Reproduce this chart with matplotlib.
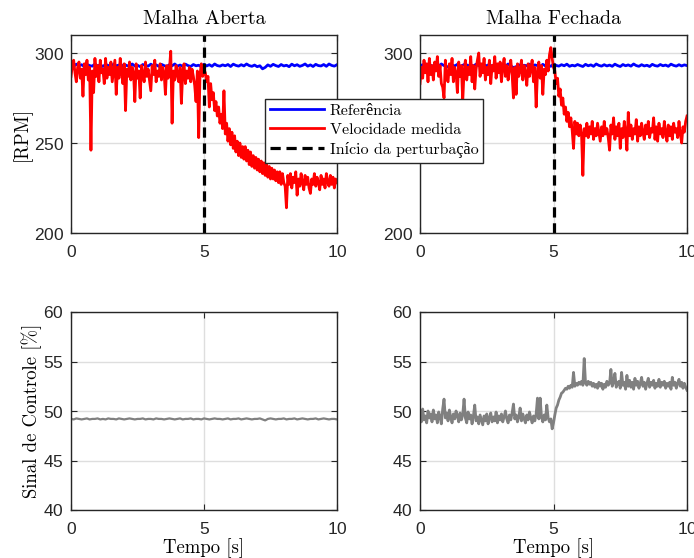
import numpy as np
import matplotlib
matplotlib.use("Agg")
import matplotlib.pyplot as plt

# velocidade de referencia (RPM), amostrada a cada 0.1 s
ref_aberta = [
    293.2, 292.6, 293.8, 292.9, 293.5, 292.4, 293.7, 293.0, 292.7, 293.9,
    292.8, 293.4, 292.5, 293.6, 293.1, 292.6, 293.8, 292.9, 293.3, 292.5,
    293.7, 293.0, 292.7, 293.9, 292.8, 293.2, 292.4, 293.6, 293.1, 292.7,
    293.8, 292.9, 293.4, 292.6, 293.7, 293.0, 292.5, 293.5, 292.9, 293.9,
    292.7, 293.3, 292.6, 293.8, 293.0, 292.5, 293.6, 292.9, 293.2, 292.4,
    293.7, 292.8, 293.5, 292.6, 293.9, 293.0, 292.7, 293.4, 292.9, 293.6,
    292.5, 293.8, 293.1, 292.7, 293.5, 292.8, 293.9, 293.0, 292.6, 293.3,
    292.4, 292.9, 291.2, 292.0, 293.4, 292.6, 293.7, 293.0, 292.5, 293.6,
    292.8, 293.2, 292.4, 293.8, 292.9, 293.5, 292.6, 293.1, 293.9, 292.7,
    293.4, 292.5, 293.7, 293.0, 292.8, 293.6, 292.6, 293.9, 293.1, 292.7,
    293.5]

ref_fechada = [
    292.9, 293.5, 292.6, 293.8, 293.1, 292.7, 293.6, 292.8, 293.9, 293.0,
    292.5, 292.1, 293.4, 292.8, 293.7, 292.6, 293.2, 293.9, 292.9, 293.5,
    292.7, 293.8, 293.0, 292.6, 293.4, 292.9, 293.7, 292.5, 293.3, 292.8,
    293.6, 293.0, 292.6, 293.9, 292.8, 291.9, 292.4, 293.5, 292.7, 293.2,
    292.9, 293.8, 292.6, 293.4, 293.0, 292.5, 293.7, 292.8, 293.3, 292.6,
    293.9, 293.1, 292.7, 293.5, 292.9, 293.8, 292.6, 293.2, 292.8, 293.6,
    293.0, 292.5, 293.7, 292.9, 293.4, 292.6, 293.9, 293.1, 292.7, 293.5,
    292.8, 293.3, 292.6, 293.8, 293.0, 292.5, 293.6, 292.9, 293.4, 292.7,
    293.9, 293.0, 292.6, 293.5, 292.8, 293.2, 292.5, 293.7, 293.0, 292.7,
    293.6, 292.9, 293.3, 292.6, 293.8, 293.1, 292.7, 293.5, 292.8, 293.4,
    293.0]

# velocidade medida (RPM), amostrada a cada 0.05 s
vel_aberta = [
    287, 293, 296, 289, 284, 292, 295, 286, 291, 276,
    294, 288, 296, 285, 292, 246, 290, 278, 297, 287,
    293, 284, 296, 289, 291, 283, 297, 286, 292, 288,
    295, 284, 290, 296, 277, 292, 286, 297, 289, 283,
    294, 268, 291, 287, 295, 285, 292, 289, 273, 294,
    286, 290, 275, 293, 288, 284, 295, 287, 291, 285,
    279, 293, 288, 296, 284, 290, 287, 294, 285, 292,
    289, 277, 293, 286, 291, 301, 261, 290, 285, 293,
    288, 284, 292, 272, 289, 294, 283, 290, 286, 292,
    284, 291, 287, 282, 273, 290, 253, 288, 294, 287,
    291, 289, 284, 287, 270, 283, 274, 278, 268, 273,
    265, 270, 261, 266, 258, 279, 255, 261, 251, 258,
    249, 256, 247, 254, 245, 251, 243, 250, 242, 248,
    241, 248, 240, 246, 238, 245, 237, 243, 236, 242,
    235, 241, 234, 240, 233, 239, 232, 238, 231, 237,
    230, 236, 230, 235, 229, 234, 228, 234, 227, 233,
    228, 226, 214, 232, 227, 233, 225, 231, 228, 234,
    221, 230, 226, 233, 228, 224, 232, 227, 231, 225,
    222, 230, 227, 233, 226, 231, 228, 224, 232, 227,
    230, 225, 233, 228, 226, 232, 227, 231, 225, 230,
    228]

vel_fechada = [
    283, 292, 286, 296, 289, 294, 284, 297, 288, 293,
    285, 295, 290, 298, 287, 293, 283, 281, 275, 296,
    286, 284, 294, 288, 297, 284, 292, 289, 278, 295,
    287, 293, 273, 290, 296, 285, 292, 288, 298, 284,
    293, 280, 291, 296, 300, 287, 294, 289, 297, 285,
    292, 288, 296, 283, 293, 290, 298, 286, 294, 289,
    295, 284, 292, 297, 287, 293, 285, 291, 296, 288,
    275, 292, 277, 294, 287, 290, 296, 285, 293, 289,
    282, 294, 287, 291, 296, 284, 292, 270, 289, 295,
    286, 293, 277, 291, 288, 296, 290, 299, 303, 297,
    292, 290, 283, 286, 276, 280, 271, 275, 266, 270,
    262, 267, 259, 264, 257, 247, 262, 255, 261, 254,
    260, 255, 232, 258, 254, 261, 253, 259, 255, 262,
    252, 258, 254, 261, 256, 251, 259, 254, 262, 255,
    258, 253, 246, 260, 255, 264, 252, 259, 254, 261,
    247, 258, 253, 262, 256, 246, 267, 254, 260, 252,
    258, 255, 263, 251, 259, 254, 261, 256, 252, 260,
    255, 262, 253, 258, 256, 264, 252, 259, 251, 261,
    255, 258, 253, 262, 256, 251, 260, 254, 259, 252,
    261, 256, 258, 253, 262, 255, 250, 259, 256, 262,
    265]

# sinal de controle (%)
u_aberta = [
    49.2, 49.15, 49.25, 49.2, 49.15, 49.2, 49.25, 49.15, 49.2, 49.2,
    49.25, 49.15, 49.2, 49.15, 49.25, 49.2, 49.2, 49.15, 49.25, 49.2,
    49.15, 49.2, 49.25, 49.2, 49.15, 49.2, 49.2, 49.25, 49.15, 49.2,
    49.2, 49.15, 49.25, 49.2, 49.2, 49.15, 49.2, 49.25, 49.2, 49.15,
    49.2, 49.25, 49.15, 49.2, 49.2, 49.25, 49.15, 49.2, 49.2, 49.15,
    49.25, 49.2, 49.15, 49.2, 49.25, 49.2, 49.2, 49.15, 49.2, 49.25,
    49.15, 49.2, 49.2, 49.25, 49.15, 49.2, 49.25, 49.2, 49.15, 49.2,
    49.2, 49.25, 49.15, 49.05, 49.2, 49.25, 49.2, 49.15, 49.2, 49.2,
    49.25, 49.15, 49.2, 49.2, 49.25, 49.15, 49.2, 49.25, 49.2, 49.15,
    49.2, 49.2, 49.25, 49.15, 49.2, 49.25, 49.2, 49.15, 49.2, 49.2,
    49.15]

u_fechada = [
    49.6, 48.9, 50.2, 49.1, 49.5, 48.8, 50.0, 49.3, 49.7, 48.9,
    50.1, 49.2, 49.6, 48.8, 49.9, 49.4, 48.7, 50.2, 51.2, 49.3,
    49.8, 49.0, 50.1, 49.4, 48.8, 49.7, 49.2, 50.0, 49.5, 48.9,
    49.8, 49.1, 49.6, 51.2, 49.3, 48.8, 49.9, 49.2, 49.6, 48.7,
    49.5, 50.6, 49.0, 49.4, 48.7, 49.6, 49.1, 48.6, 49.5, 49.0,
    49.7, 48.7, 49.3, 49.8, 48.9, 49.4, 49.0, 49.9, 48.8, 49.5,
    49.1, 49.7, 48.9, 49.4, 50.0, 49.2, 48.8, 49.6, 49.1, 49.8,
    50.7, 49.2, 49.6, 48.9, 49.4, 50.3, 49.0, 49.7, 49.2, 48.8,
    49.6, 49.1, 49.9, 49.3, 48.8, 49.5, 49.0, 49.7, 51.3, 49.2,
    51.3, 49.4, 48.9, 49.6, 49.1, 50.6, 49.3, 48.9, 49.2, 48.2,
    48.8, 49.6, 50.3, 50.6, 51.1, 51.4, 51.8, 51.9, 52.1, 52.3,
    52.2, 52.5, 52.3, 52.6, 52.4, 53.9, 52.5, 52.8, 52.6, 52.9,
    52.7, 53.0, 52.6, 55.3, 52.8, 52.6, 53.0, 52.7, 52.9, 52.5,
    52.8, 52.4, 52.7, 52.3, 52.9, 52.5, 52.8, 52.2, 52.7, 52.4,
    53.0, 52.6, 52.8, 54.2, 52.5, 52.9, 53.8, 52.4, 52.8, 53.0,
    52.3, 53.9, 52.6, 52.9, 52.2, 53.6, 52.5, 53.1, 52.4, 52.9,
    52.2, 53.3, 52.6, 53.0, 52.3, 52.8, 53.4, 52.5, 52.9, 52.2,
    52.8, 53.3, 52.4, 52.9, 52.6, 53.1, 52.3, 52.8, 52.5, 53.2,
    52.4, 52.9, 52.6, 53.0, 52.3, 52.8, 52.5, 52.9, 52.2, 53.4,
    52.6, 52.9, 52.3, 52.8, 53.2, 52.5, 52.9, 52.3, 52.8, 52.4,
    52.1]

t_perturbacao = 5.0
titulos = ["Malha Aberta", "Malha Fechada"]

serif = ["cmr10", "Liberation Serif"]
plt.rcParams["font.family"] = ["Liberation Sans", "DejaVu Sans"]
plt.rcParams["axes.formatter.use_mathtext"] = True

fig = plt.figure(figsize=(6.94, 5.58), dpi=100)
W, H = 694.0, 558.0


def make_ax(x0, x1, y0, y1):
    ax = fig.add_axes([x0 / W, 1 - y1 / H, (x1 - x0) / W, (y1 - y0) / H])
    ax.grid(True, color="#dedede", linewidth=1.0)
    ax.set_axisbelow(True)
    ax.tick_params(direction="in", top=True, right=True, labelsize=12.5,
                   colors="#262626", length=4, width=0.8, pad=5)
    ax.tick_params(axis="x", pad=8)
    for s in ax.spines.values():
        s.set_color("#262626")
        s.set_linewidth(1.0)
    ax.set_xlim(0, 10)
    ax.set_xticks([0, 5, 10])
    return ax


ax_tl = make_ax(71, 337, 35, 233)
ax_tr = make_ax(420, 687, 35, 233)
ax_bl = make_ax(71, 337, 312, 510)
ax_br = make_ax(420, 687, 312, 510)

refs = [ref_aberta, ref_fechada]
vels = [vel_aberta, vel_fechada]
us = [u_aberta, u_fechada]

for k, (ax, ax_u) in enumerate([(ax_tl, ax_bl), (ax_tr, ax_br)]):
    t_ref = np.linspace(0, 10, len(refs[k]))
    t_vel = np.linspace(0, 10, len(vels[k]))
    l1, = ax.plot(t_ref, refs[k], color="#0000ff", linewidth=2.0, label="Referência")
    l2, = ax.plot(t_vel, vels[k], color="#ff0000", linewidth=2.0, label="Velocidade medida")
    l3 = ax.axvline(t_perturbacao, color="black", linewidth=2.3,
                    dashes=(3.2, 1.8), label="Início da perturbação")
    ax.set_ylim(200, 310)
    ax.set_yticks([200, 250, 300])
    ax.set_title(titulos[k], family=serif, fontsize=14.5, pad=8)

    t_u = np.linspace(0, 10, len(us[k]))
    ax_u.plot(t_u, us[k], color="#808080", linewidth=1.6 if k == 0 else 2.0)
    ax_u.set_ylim(40, 60)
    ax_u.set_yticks([40, 45, 50, 55, 60])
    ax_u.set_xlabel("Tempo [s]", family=serif, fontsize=13.5, labelpad=1)

ax_tl.set_ylabel("[RPM]", family=serif, fontsize=13.5)
ax_tl.yaxis.set_label_coords(-0.147, 0.5)
ax_bl.set_ylabel("Sinal de Controle [%]", family=serif, fontsize=13.5)
ax_bl.yaxis.set_label_coords(-0.109, 0.5)

leg = fig.legend(handles=[l1, l2, l3], loc="upper left",
                 bbox_to_anchor=(265 / W, 1 - 99 / H),
                 prop={"family": serif, "size": 11.5},
                 fancybox=False, framealpha=1, edgecolor="#262626",
                 handlelength=3.4, borderpad=0.3, labelspacing=0.3,
                 handletextpad=0.35, borderaxespad=0)
leg.get_frame().set_linewidth(1.0)

fig.savefig("out.png", dpi=100)
